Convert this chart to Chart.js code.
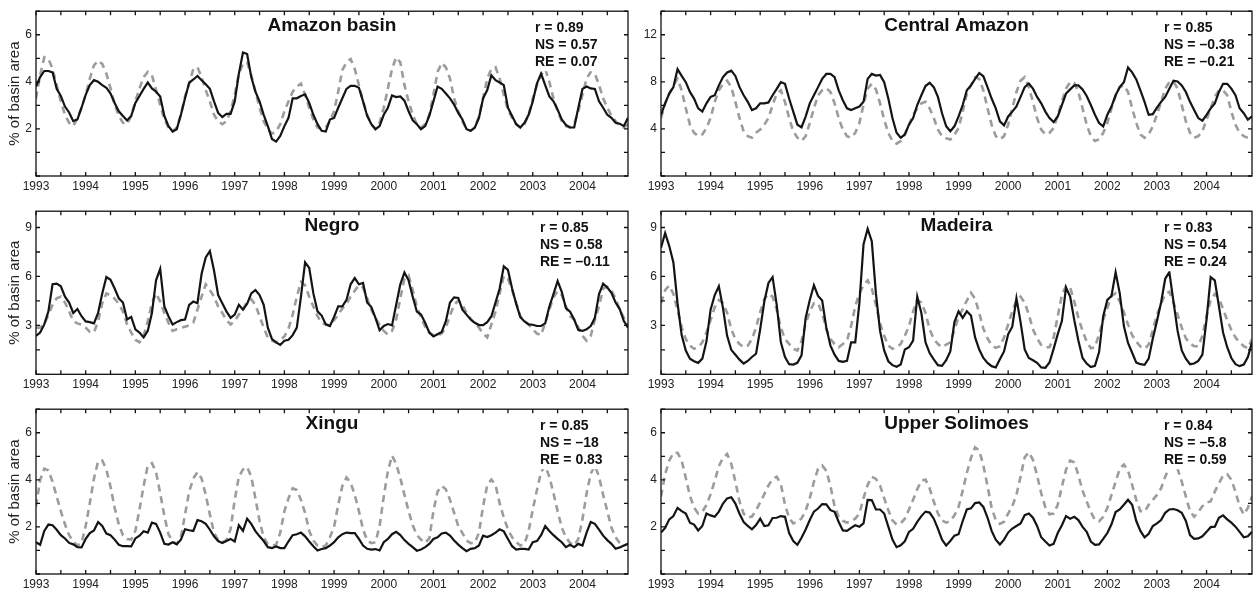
<!DOCTYPE html>
<html>
<head>
<meta charset="utf-8">
<script src="https://cdn.jsdelivr.net/npm/chart.js@4.4.1/dist/chart.umd.min.js"></script>
<style>
  html, body { margin: 0; padding: 0; background: #fff; }
  #wrap { position: relative; width: 1256px; height: 595px; overflow: hidden; }
  #wrap canvas { position: absolute; }
</style>
</head>
<body>
<div id="wrap">
  <canvas id="c0"></canvas><canvas id="c1"></canvas>
  <canvas id="c2"></canvas><canvas id="c3"></canvas>
  <canvas id="c4"></canvas><canvas id="c5"></canvas>
</div>
<script>
// ===== Data (monthly, Jan 1993 - Dec 2004) =====
const years = [1993, 1994, 1995, 1996, 1997, 1998, 1999, 2000, 2001, 2002, 2003, 2004];

const amazonObs = [
  3.8, 4.2, 4.46, 4.46, 4.4, 3.7, 3.4, 2.95, 2.7, 2.33, 2.4, 2.9,
  3.45, 3.86, 4.07, 4.0, 3.86, 3.75, 3.5, 3.1, 2.75, 2.55, 2.36, 2.55,
  3.1, 3.4, 3.7, 3.97, 3.72, 3.58, 3.38, 2.55, 2.12, 1.89, 1.99, 2.6,
  3.3, 3.96, 4.1, 4.25, 4.07, 3.9, 3.7, 3.17, 2.68, 2.5, 2.64, 2.64,
  3.17, 4.35, 5.25, 5.18, 4.2, 3.58, 3.17, 2.6, 2.12, 1.57, 1.46, 1.7,
  2.12, 2.47, 3.3, 3.3, 3.4, 3.47, 3.1, 2.6, 2.2, 1.92, 1.89, 2.4,
  2.47, 2.9, 3.3, 3.7, 3.83, 3.83, 3.75, 3.17, 2.55, 2.2, 1.99, 2.12,
  2.6, 2.9, 3.42, 3.35, 3.38, 3.2, 2.75, 2.36, 2.2, 1.99, 2.12, 2.55,
  3.17, 3.8, 3.7, 3.5, 3.3, 3.03, 2.68, 2.4, 1.99, 1.92, 2.06, 2.47,
  3.3, 3.65, 4.28, 4.07, 3.97, 3.86, 2.9, 2.55, 2.2, 2.06, 2.26, 2.6,
  3.17, 3.93, 4.35, 3.86, 3.38, 3.17, 2.82, 2.4, 2.17, 2.06, 2.06, 2.9,
  3.7, 3.8, 3.72, 3.7, 3.17, 2.9, 2.6, 2.47, 2.26, 2.22, 2.12, 2.47
];
const amazonSim = [
  3.3, 4.28, 5.04, 4.97, 4.55, 3.86, 3.17, 2.6, 2.26, 2.12, 2.47, 2.9,
  3.45, 4.14, 4.7, 4.9, 4.76, 4.35, 3.72, 3.03, 2.55, 2.26, 2.2, 2.55,
  3.17, 3.72, 4.2, 4.42, 4.28, 3.65, 3.03, 2.4, 2.06, 1.89, 2.06, 2.6,
  3.38, 3.93, 4.55, 4.62, 4.2, 3.65, 3.17, 2.6, 2.33, 2.2, 2.33, 2.75,
  3.45, 4.35, 4.76, 4.83, 4.28, 3.58, 2.9, 2.33, 1.99, 1.8, 1.89, 2.2,
  2.75, 3.17, 3.58, 3.8, 3.93, 3.45, 2.9, 2.4, 2.06, 1.99, 2.06, 2.33,
  2.75, 3.58, 4.5, 4.83, 4.97, 4.55, 3.86, 3.17, 2.6, 2.2, 1.99, 2.26,
  2.9, 3.72, 4.55, 5.04, 4.83, 3.86, 3.17, 2.6, 2.2, 2.06, 2.2, 2.6,
  3.45, 4.42, 4.8, 4.62, 4.14, 3.3, 2.75, 2.33, 1.99, 1.92, 2.06, 2.55,
  3.3, 4.14, 4.55, 4.62, 4.14, 3.45, 2.82, 2.47, 2.2, 2.06, 2.2, 2.6,
  3.3, 3.86, 4.28, 4.55, 4.0, 3.3, 2.75, 2.33, 2.12, 2.06, 2.2, 2.75,
  3.45, 4.14, 4.42, 4.35, 3.86, 3.3, 2.9, 2.55, 2.33, 2.12, 2.06, 2.2
];

const centralObs = [
  5.2, 6.17, 7.0, 7.55, 9.08, 8.5, 7.97, 7.14, 6.58, 5.75, 5.47, 6.17,
  6.72, 6.86, 7.7, 8.4, 8.8, 8.95, 8.5, 7.55, 6.86, 6.3, 5.6, 5.75,
  6.17, 6.17, 6.25, 6.86, 7.4, 7.97, 7.83, 6.58, 5.47, 4.36, 4.14, 5.05,
  6.17, 6.86, 7.55, 8.25, 8.67, 8.67, 8.4, 7.28, 6.44, 5.75, 5.6, 5.75,
  5.9, 6.3, 8.25, 8.67, 8.53, 8.58, 7.97, 6.58, 4.92, 3.67, 3.25, 3.53,
  4.36, 4.92, 6.03, 6.86, 7.64, 7.92, 7.55, 6.72, 5.33, 4.22, 3.8, 4.22,
  5.06, 6.03, 7.28, 7.7, 8.25, 8.75, 8.47, 7.55, 6.58, 5.75, 4.64, 4.3,
  5.06, 5.47, 5.9, 6.72, 7.55, 7.86, 7.42, 6.72, 6.17, 5.47, 4.92, 4.58,
  5.06, 6.03, 7.0, 7.36, 7.7, 7.7, 7.36, 6.8, 6.03, 5.2, 4.5, 4.22,
  5.2, 5.9, 6.86, 7.55, 7.97, 9.22, 8.8, 8.2, 7.28, 6.3, 5.2, 5.25,
  5.8, 6.3, 6.72, 7.42, 8.1, 8.03, 7.7, 7.14, 6.3, 5.6, 4.92, 4.7,
  5.2, 5.75, 6.17, 7.14, 7.83, 7.83, 7.42, 6.86, 5.75, 5.33, 4.78, 5.06
];
const centralSim = [
  4.92, 6.17, 7.0, 7.7, 8.25, 7.28, 5.75, 4.36, 3.67, 3.39, 3.53, 4.08,
  4.92, 6.3, 7.28, 7.83, 8.1, 7.55, 6.3, 4.92, 3.8, 3.39, 3.25, 3.67,
  3.94, 4.36, 4.92, 6.03, 7.0, 7.28, 6.3, 4.92, 3.8, 3.25, 2.97, 3.39,
  4.5, 5.75, 6.86, 7.28, 7.47, 7.14, 6.17, 4.92, 3.94, 3.39, 3.25, 3.67,
  4.5, 6.03, 7.42, 7.83, 7.36, 6.17, 4.78, 3.67, 2.97, 2.75, 2.97, 3.53,
  4.36, 5.2, 5.75, 6.17, 6.3, 5.75, 4.92, 3.94, 3.39, 3.2, 3.1, 3.5,
  4.08, 5.47, 7.0, 7.7, 8.39, 8.25, 7.28, 5.75, 4.36, 3.39, 3.11, 3.39,
  4.36, 5.75, 7.14, 8.1, 8.39, 7.55, 6.3, 4.92, 3.94, 3.53, 3.67, 4.08,
  5.2, 6.3, 7.42, 7.97, 7.92, 7.14, 5.75, 4.36, 3.39, 2.97, 3.11, 3.67,
  4.5, 5.75, 6.86, 7.55, 7.7, 7.14, 5.75, 4.5, 3.53, 3.25, 3.53, 4.22,
  5.2, 6.3, 7.42, 7.97, 8.03, 7.42, 6.03, 4.64, 3.67, 3.25, 3.39, 3.8,
  4.78, 5.75, 6.72, 7.28, 7.28, 6.86, 5.47, 4.36, 3.67, 3.39, 3.25, 3.11
];

const negroObs = [
  2.36, 2.56, 3.06, 3.86, 5.52, 5.56, 5.4, 4.76, 4.4, 3.76, 4.0, 3.56,
  3.24, 3.2, 3.12, 3.76, 4.96, 5.96, 5.8, 5.26, 4.66, 4.4, 3.36, 3.52,
  2.76, 2.56, 2.26, 2.66, 3.76, 5.76, 6.46, 4.16, 3.56, 3.06, 3.2, 3.32,
  3.36, 4.26, 4.46, 4.36, 6.16, 7.16, 7.56, 6.36, 4.86, 4.36, 3.86, 3.46,
  3.66, 4.26, 3.96, 4.32, 4.96, 5.16, 4.86, 4.26, 2.86, 2.16, 1.96, 1.8,
  2.06, 2.12, 2.4, 2.86, 4.76, 6.86, 6.52, 4.96, 3.86, 3.6, 3.06, 2.96,
  3.52, 4.16, 4.16, 4.56, 5.52, 5.9, 5.52, 5.6, 4.4, 4.12, 3.46, 2.7,
  2.96, 3.08, 3.0, 4.26, 5.52, 6.24, 5.76, 4.76, 3.84, 3.66, 3.16, 2.56,
  2.32, 2.46, 2.6, 3.26, 4.4, 4.72, 4.68, 3.96, 3.66, 3.36, 3.16, 3.02,
  3.02, 3.2, 3.56, 4.4, 5.26, 6.62, 6.4, 5.26, 4.32, 3.5, 3.24, 3.06,
  3.04, 2.96, 2.96, 3.12, 4.16, 4.92, 5.72, 5.06, 4.06, 3.84, 3.36, 2.72,
  2.66, 2.76, 2.96, 3.46, 4.92, 5.56, 5.32, 5.0, 4.4, 4.0, 3.26, 2.86
];
const negroSim = [
  2.86, 2.86, 3.06, 3.66, 4.26, 4.66, 4.76, 4.4, 3.86, 3.26, 3.12, 3.04,
  2.86, 2.6, 2.56, 3.26, 4.36, 4.96, 4.84, 4.64, 4.32, 3.86, 3.06, 2.56,
  2.12, 1.96, 2.36, 3.26, 4.36, 4.96, 4.46, 3.76, 3.16, 2.66, 2.76, 2.84,
  2.92, 3.0, 3.16, 3.96, 4.76, 5.52, 5.16, 4.76, 4.16, 3.76, 3.32, 3.06,
  3.26, 3.66, 4.0, 4.46, 4.6, 4.26, 3.56, 2.86, 2.26, 2.06, 1.96, 2.12,
  2.32, 2.8, 3.66, 4.76, 5.66, 5.46, 4.76, 4.16, 3.56, 3.16, 3.06, 3.0,
  3.32, 3.66, 4.04, 4.32, 4.76, 5.12, 5.46, 5.32, 4.66, 3.96, 3.46, 3.02,
  2.66, 2.44, 2.66, 3.36, 4.66, 5.86, 6.06, 5.16, 4.16, 3.46, 2.92, 2.56,
  2.4, 2.36, 2.5, 2.86, 3.6, 4.26, 4.52, 4.26, 3.76, 3.4, 3.12, 2.86,
  2.5, 2.26, 3.06, 3.86, 4.96, 6.04, 5.86, 5.16, 4.36, 3.56, 3.26, 3.06,
  2.76, 2.5, 2.4, 3.16, 3.96, 4.72, 5.1, 4.86, 4.16, 3.56, 3.36, 2.86,
  2.36, 2.06, 2.36, 3.36, 4.16, 5.26, 5.36, 5.12, 4.66, 3.96, 3.46, 2.92
];

const madeiraObs = [
  7.76, 8.66, 7.86, 6.86, 4.36, 2.4, 1.46, 0.96, 0.8, 0.7, 0.96, 2.02,
  3.96, 4.86, 5.4, 4.06, 2.36, 1.5, 1.2, 0.9, 0.66, 0.82, 1.06, 1.26,
  2.76, 4.46, 5.6, 5.96, 4.26, 1.96, 1.06, 0.62, 0.6, 0.7, 1.16, 3.46,
  4.56, 5.46, 4.8, 4.52, 2.86, 1.76, 1.2, 0.82, 0.76, 0.82, 1.96, 1.96,
  4.36, 7.96, 8.92, 8.16, 4.96, 2.66, 1.46, 0.8, 0.56, 0.46, 0.6, 1.52,
  1.66, 2.06, 4.76, 3.76, 1.96, 1.3, 0.92, 0.56, 0.52, 0.86, 1.4, 3.2,
  3.86, 3.46, 3.86, 3.6, 2.26, 1.52, 1.0, 0.7, 0.5, 0.42, 0.92, 1.4,
  2.46, 2.92, 4.66, 3.2, 1.52, 1.0, 0.86, 0.7, 0.42, 0.4, 0.72, 1.56,
  2.46, 3.26, 5.32, 4.76, 3.32, 2.06, 1.0, 0.66, 0.44, 0.52, 1.36, 3.56,
  4.56, 4.8, 6.26, 4.96, 2.96, 1.92, 1.32, 0.72, 0.62, 0.58, 0.96, 2.2,
  3.26, 4.4, 5.86, 6.26, 4.46, 2.66, 1.46, 0.96, 0.62, 0.66, 0.82, 1.2,
  3.36, 5.96, 5.76, 4.16, 2.56, 1.66, 1.0, 0.62, 0.5, 0.6, 1.06, 1.96
];
const madeiraSim = [
  4.36, 5.16, 5.44, 4.92, 3.96, 2.88, 2.16, 1.76, 1.56, 1.66, 1.96, 2.56,
  3.32, 4.12, 4.56, 4.36, 3.76, 2.76, 2.16, 1.86, 1.66, 1.76, 2.16, 2.86,
  3.82, 4.62, 4.94, 4.76, 3.96, 2.86, 2.16, 1.86, 1.56, 1.46, 2.04, 3.12,
  3.84, 4.36, 4.36, 3.76, 2.76, 2.16, 1.86, 1.66, 1.86, 2.06, 2.96, 4.16,
  4.96, 5.46, 5.76, 5.26, 4.26, 3.12, 2.36, 1.76, 1.56, 1.66, 1.86, 2.36,
  2.96, 3.86, 4.56, 4.4, 3.76, 2.76, 2.16, 1.86, 1.66, 1.82, 1.96, 2.72,
  3.52, 4.0, 4.52, 5.0, 4.64, 3.76, 2.8, 2.2, 1.8, 1.62, 1.72, 2.26,
  3.06, 3.86, 4.52, 4.76, 4.4, 3.66, 2.76, 2.2, 1.8, 1.66, 1.66, 2.26,
  3.56, 4.86, 5.42, 5.32, 4.46, 3.46, 2.66, 2.0, 1.6, 1.66, 2.46, 3.36,
  4.06, 4.8, 4.96, 4.46, 3.8, 3.06, 2.4, 2.0, 1.7, 1.56, 1.82, 2.72,
  3.62, 4.32, 4.92, 5.06, 4.4, 3.66, 2.86, 2.2, 1.9, 1.72, 1.72, 2.36,
  3.56, 4.56, 4.92, 4.66, 4.0, 3.32, 2.72, 2.26, 1.96, 1.72, 1.6, 2.16
];

const xinguObs = [
  1.35, 1.24, 1.83, 2.1, 2.07, 1.88, 1.65, 1.51, 1.32, 1.26, 1.14, 1.13,
  1.49, 1.74, 1.85, 2.21, 2.04, 1.72, 1.65, 1.46, 1.24, 1.18, 1.18, 1.17,
  1.51, 1.63, 1.82, 1.76, 2.18, 2.13, 1.76, 1.28, 1.25, 1.35, 1.26, 1.46,
  1.9, 1.86, 1.83, 2.29, 2.24, 2.13, 1.88, 1.6, 1.4, 1.32, 1.4, 1.49,
  1.38, 2.07, 1.83, 2.35, 2.13, 1.82, 1.6, 1.4, 1.14, 1.1, 1.17, 1.1,
  1.1, 1.39, 1.65, 1.69, 1.76, 1.6, 1.38, 1.18, 1.0, 1.06, 1.1, 1.21,
  1.35, 1.56, 1.69, 1.76, 1.74, 1.74, 1.49, 1.21, 1.07, 1.04, 1.06, 1.0,
  1.35, 1.49, 1.69, 1.79, 1.65, 1.44, 1.28, 1.14, 0.99, 1.04, 1.14, 1.28,
  1.49, 1.56, 1.72, 1.76, 1.63, 1.42, 1.25, 1.1, 0.97, 1.07, 1.1, 1.21,
  1.63, 1.57, 1.65, 1.76, 1.9, 1.81, 1.49, 1.18, 1.04, 1.07, 1.07, 1.04,
  1.35, 1.4, 1.65, 2.04, 1.83, 1.65, 1.49, 1.35, 1.14, 1.24, 1.14, 1.28,
  1.21, 1.76, 2.21, 2.13, 1.88, 1.63, 1.44, 1.28, 1.07, 1.13, 1.21, 1.28
];
const xinguSim = [
  2.88, 3.99, 4.47, 4.4, 3.92, 3.29, 2.67, 2.11, 1.65, 1.38, 1.21, 1.31,
  2.04, 3.01, 4.06, 4.79, 4.82, 4.43, 3.71, 2.81, 2.11, 1.65, 1.49, 1.46,
  1.83, 2.74, 3.74, 4.61, 4.71, 4.33, 3.43, 2.46, 1.69, 1.38, 1.28, 1.56,
  2.53, 3.5, 4.06, 4.33, 4.06, 3.36, 2.53, 1.76, 1.44, 1.35, 1.44, 1.9,
  3.15, 4.13, 4.44, 4.54, 4.13, 3.22, 2.25, 1.56, 1.28, 1.21, 1.24, 1.76,
  2.67, 3.22, 3.64, 3.57, 3.15, 2.6, 1.83, 1.42, 1.21, 1.14, 1.21, 1.56,
  2.0, 2.94, 3.74, 4.1, 3.88, 3.36, 2.67, 1.9, 1.42, 1.31, 1.35, 2.04,
  3.29, 4.38, 5.03, 4.68, 4.08, 3.36, 2.67, 2.07, 1.65, 1.46, 1.32, 1.51,
  2.67, 3.5, 3.74, 3.6, 3.15, 2.6, 2.04, 1.74, 1.42, 1.31, 1.32, 1.76,
  2.88, 3.78, 4.01, 3.78, 3.01, 2.39, 1.9, 1.56, 1.35, 1.21, 1.28, 1.83,
  2.74, 3.57, 4.33, 4.61, 4.13, 3.43, 2.67, 1.97, 1.56, 1.32, 1.21, 1.49,
  2.32, 3.43, 4.26, 4.61, 4.13, 3.36, 2.67, 1.97, 1.56, 1.32, 1.21, 1.28
];

const solimoesObs = [
  1.76, 1.96, 2.32, 2.46, 2.81, 2.67, 2.57, 2.18, 2.1, 1.85, 2.04, 2.57,
  2.49, 2.43, 2.65, 2.99, 3.21, 3.26, 2.99, 2.56, 2.21, 2.04, 1.9, 2.08,
  2.35, 2.04, 2.07, 2.38, 2.39, 2.46, 2.43, 1.74, 1.4, 1.24, 1.54, 1.89,
  2.29, 2.65, 2.78, 2.97, 2.96, 2.71, 2.64, 2.21, 1.85, 1.83, 1.96, 2.07,
  2.01, 2.15, 3.15, 3.14, 2.74, 2.74, 2.57, 2.01, 1.46, 1.14, 1.22, 1.39,
  1.79, 1.92, 2.21, 2.46, 2.65, 2.61, 2.35, 1.93, 1.46, 1.21, 1.4, 1.63,
  1.69, 2.25, 2.74, 2.79, 3.01, 3.04, 2.85, 2.4, 1.83, 1.46, 1.25, 1.46,
  1.76, 1.93, 2.04, 2.15, 2.5, 2.57, 2.39, 2.04, 1.56, 1.38, 1.21, 1.28,
  1.74, 2.07, 2.46, 2.35, 2.43, 2.29, 2.0, 1.79, 1.38, 1.24, 1.26, 1.49,
  1.74, 2.11, 2.63, 2.74, 2.94, 3.15, 2.94, 2.25, 1.83, 1.56, 1.71, 2.04,
  2.15, 2.29, 2.6, 2.74, 2.76, 2.71, 2.6, 2.25, 1.65, 1.49, 1.51, 1.6,
  1.79, 1.99, 2.01, 2.39, 2.49, 2.32, 2.18, 2.01, 1.79, 1.56, 1.6, 1.79
];
const solimoesSim = [
  3.29, 4.24, 4.82, 5.15, 5.15, 4.82, 4.08, 3.32, 2.82, 2.57, 2.65, 2.93,
  3.39, 3.96, 4.58, 4.94, 5.1, 4.68, 3.92, 3.08, 2.56, 2.4, 2.44, 2.71,
  3.04, 3.39, 3.76, 4.03, 4.13, 3.82, 2.94, 2.38, 2.15, 2.21, 2.36, 2.69,
  3.22, 3.92, 4.47, 4.61, 4.38, 3.74, 2.88, 2.42, 2.26, 2.18, 2.24, 2.35,
  2.57, 3.22, 3.78, 4.13, 4.04, 3.76, 3.22, 2.71, 2.28, 2.1, 2.15, 2.35,
  2.74, 3.15, 3.6, 3.96, 4.01, 3.64, 3.08, 2.57, 2.28, 2.18, 2.25, 2.49,
  2.85, 3.54, 4.29, 4.93, 5.38, 5.24, 4.61, 3.74, 2.81, 2.29, 2.13, 2.22,
  2.57, 2.88, 3.36, 4.13, 4.96, 5.17, 4.85, 4.19, 3.43, 2.83, 2.54, 2.57,
  2.94, 3.71, 4.43, 4.82, 4.74, 4.19, 3.54, 3.08, 2.64, 2.29, 2.24, 2.43,
  2.81, 3.36, 3.92, 4.47, 4.65, 4.4, 3.78, 3.15, 2.67, 2.64, 2.94, 3.15,
  3.36, 3.64, 4.13, 4.54, 4.68, 4.47, 3.92, 3.29, 2.67, 2.43, 2.63, 2.88,
  3.04, 3.08, 3.5, 3.85, 4.18, 4.24, 4.01, 3.5, 2.88, 2.53, 2.81, 3.29
];

const statsAmazon = ["r = 0.89", "NS = 0.57", "RE = 0.07"];
const statsCentral = ["r = 0.85", "NS = \u20130.38", "RE = \u20130.21"];
const statsNegro = ["r = 0.85", "NS = 0.58", "RE = \u20130.11"];
const statsMadeira = ["r = 0.83", "NS = 0.54", "RE = 0.24"];
const statsXingu = ["r = 0.85", "NS = \u201318", "RE = 0.83"];
const statsSolimoes = ["r = 0.84", "NS = \u20135.8", "RE = 0.59"];

// ===== Layout =====
const FONT = '"Liberation Sans", Arial, Helvetica, sans-serif';
Chart.defaults.font.family = FONT;
Chart.defaults.color = "#222";

const months = years.flatMap(y => Array.from({ length: 12 }, (_, m) => y + m / 12));

const colLeft = [0, 625], colWidth = [632, 631];
const rowTop = [0, 200, 398], padTop = [7, 7.7, 7.7], xAxisH = [19, 20.7, 19];

const panels = [
  { id: "c0", col: 0, row: 0, title: "Amazon basin", obs: amazonObs, sim: amazonSim, yMax: 7, yStep: 1, yLab: 2, stats: statsAmazon, statsOff: 93 },
  { id: "c1", col: 1, row: 0, title: "Central Amazon", obs: centralObs, sim: centralSim, yMax: 14, yStep: 2, yLab: 4, stats: statsCentral, statsOff: 88 },
  { id: "c2", col: 0, row: 1, title: "Negro", obs: negroObs, sim: negroSim, yMax: 10, yStep: 1.5, yLab: 3, stats: statsNegro, statsOff: 88 },
  { id: "c3", col: 1, row: 1, title: "Madeira", obs: madeiraObs, sim: madeiraSim, yMax: 10, yStep: 1.5, yLab: 3, stats: statsMadeira, statsOff: 88 },
  { id: "c4", col: 0, row: 2, title: "Xingu", obs: xinguObs, sim: xinguSim, yMax: 7, yStep: 1, yLab: 2, stats: statsXingu, statsOff: 88 },
  { id: "c5", col: 1, row: 2, title: "Upper Solimoes", obs: solimoesObs, sim: solimoesSim, yMax: 7, yStep: 1, yLab: 2, stats: statsSolimoes, statsOff: 88 }
];

// box, inward ticks, title and stats text
const framePlugin = {
  id: "frame",
  afterDatasetsDraw(chart, args, opts) {
    const { ctx, chartArea: a, scales: { x, y } } = chart;
    ctx.save();
    ctx.font = "bold 14px " + FONT;
    const w = Math.max(...opts.stats.map(s => ctx.measureText(s).width));
    const tx = a.right - opts.statsOff;
    ctx.fillStyle = "#fff";
    ctx.fillRect(tx - 3, a.top + 8, w + 6, 52);
    ctx.fillStyle = "#111";
    ctx.textBaseline = "middle";
    opts.stats.forEach((s, i) => ctx.fillText(s, tx, a.top + 17 + i * 17));

    ctx.font = "bold 19px " + FONT;
    ctx.textAlign = "center";
    ctx.fillText(opts.title, (a.left + a.right) / 2, a.top + 15);

    ctx.strokeStyle = "#111";
    ctx.lineWidth = 1.3;
    ctx.strokeRect(a.left, a.top, a.right - a.left, a.bottom - a.top);
    ctx.beginPath();
    x.ticks.forEach(t => {
      const px = x.getPixelForValue(t.value);
      ctx.moveTo(px, a.bottom); ctx.lineTo(px, a.bottom - 4);
      ctx.moveTo(px, a.top); ctx.lineTo(px, a.top + 4);
    });
    y.ticks.forEach(t => {
      const py = y.getPixelForValue(t.value);
      ctx.moveTo(a.left, py); ctx.lineTo(a.left + 4, py);
      ctx.moveTo(a.right, py); ctx.lineTo(a.right - 4, py);
    });
    ctx.stroke();
    ctx.restore();
  }
};

panels.forEach(p => {
  const cv = document.getElementById(p.id);
  cv.width = colWidth[p.col];
  cv.height = 195;
  cv.style.left = colLeft[p.col] + "px";
  cv.style.top = rowTop[p.row] + "px";

  new Chart(cv, {
    type: "line",
    data: {
      datasets: [
        {
          data: months.map((m, i) => ({ x: m, y: p.obs[i] })),
          borderColor: "#141414",
          borderWidth: 2.2,
          pointRadius: 0,
          tension: 0
        },
        {
          data: months.map((m, i) => ({ x: m, y: p.sim[i] })),
          borderColor: "#9c9c9c",
          borderWidth: 2.6,
          borderDash: [7, 5],
          pointRadius: 0,
          tension: 0
        }
      ]
    },
    options: {
      responsive: false,
      animation: false,
      devicePixelRatio: 1,
      layout: { padding: { top: padTop[p.row], right: 4, left: 0, bottom: 0 } },
      plugins: {
        legend: { display: false },
        tooltip: { enabled: false },
        frame: { title: p.title, stats: p.stats, statsOff: p.statsOff }
      },
      scales: {
        x: {
          type: "linear",
          min: years[0],
          max: years[years.length - 1] + 11 / 12,
          grid: { display: false, drawTicks: false },
          border: { display: false },
          afterFit: s => { s.height = xAxisH[p.row]; },
          ticks: {
            stepSize: 0.5,
            includeBounds: false,
            autoSkip: false,
            maxRotation: 0,
            maxTicksLimit: 100,
            padding: 3,
            font: { size: 12 },
            color: "#222",
            callback: v => (Number.isInteger(v) ? String(v) : "")
          }
        },
        y: {
          min: 0,
          max: p.yMax,
          grid: { display: false, drawTicks: false },
          border: { display: false },
          afterFit: s => { s.width = 36; },
          title: {
            display: p.col === 0,
            text: "% of basin area",
            font: { size: 15 },
            color: "#222",
            padding: { top: 6, bottom: 0 }
          },
          ticks: {
            stepSize: p.yStep,
            includeBounds: false,
            autoSkip: false,
            maxTicksLimit: 100,
            padding: 4,
            font: { size: 12 },
            color: "#222",
            callback: v => (v > 0 && Math.abs(v / p.yLab - Math.round(v / p.yLab)) < 1e-6 ? String(v) : "")
          }
        }
      }
    },
    plugins: [framePlugin]
  });
});
</script>
</body>
</html>
